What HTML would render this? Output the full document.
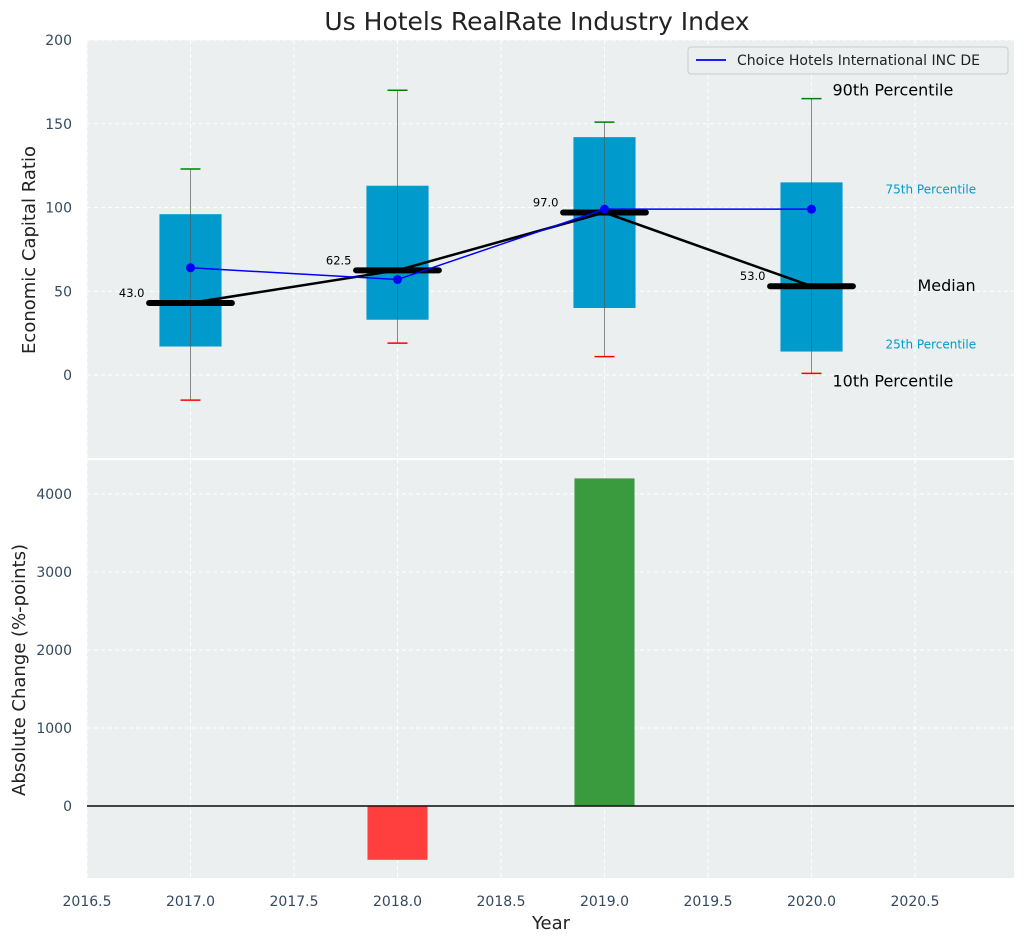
<!DOCTYPE html>
<html><head><meta charset="utf-8"><style>
body{margin:0;background:#fff;font-family:"Liberation Sans","DejaVu Sans",sans-serif;}
svg text{font-family:"DejaVu Sans","Liberation Sans",sans-serif;}
</style></head><body>
<svg id="chart" width="1026" height="942" xmlns="http://www.w3.org/2000/svg">
<rect width="1026" height="942" fill="#fff"/>
<text x="537" y="30" font-size="25" text-anchor="middle" fill="#222">Us Hotels RealRate Industry Index</text>
<g id="topPanel"></g>
<g id="botPanel"></g>
</svg>
<script>
const years=[2017,2018,2019,2020];
const p10=[-15,19,11,1];
const q1=[17,33,40,14];
const medians=[43,62.5,97,53];
const q3=[96,113,142,115];
const p90=[123,170,151,165];
const company=[64,57,99,99];
const changes=[null,-690,4200,null];
const xTicks=[2016.5,2017,2017.5,2018,2018.5,2019,2019.5,2020,2020.5];
const topTicks=[0,50,100,150,200];
const botTicks=[0,1000,2000,3000,4000];

const NS="http://www.w3.org/2000/svg";
function el(p,t,a){const e=document.createElementNS(NS,t);for(const k in a)e.setAttribute(k,a[k]);p.appendChild(e);return e;}
const L=87,R=1014;
const X=v=>L+(v-2016.5)*207;
const YT=v=>375-v*1.675;
const YB=v=>806-v*0.078;
const gTop=document.getElementById('topPanel'),gBot=document.getElementById('botPanel');
let r=el(gTop,'rect',{x:L,y:40,width:R-L,height:418,fill:'#ebeff0'});


r=el(gBot,'rect',{x:L,y:460,width:R-L,height:418,fill:'#ebeff0'});


xTicks.forEach(t=>{
 [[gTop,40,458],[gBot,460,878]].forEach(([g,a,b])=>{let l=el(g,'line',{x1:X(t),x2:X(t),y1:a,y2:b,stroke:'#fff','stroke-dasharray':'4,3','stroke-width':1});
 
 });
 let tx=el(gBot,'text',{x:X(t),y:906,'font-size':14,'text-anchor':'middle',fill:'#34495e'});tx.textContent=t.toFixed(1);
 
 
});
topTicks.forEach(t=>{
 let l=el(gTop,'line',{x1:L,x2:R,y1:YT(t),y2:YT(t),stroke:'#fff','stroke-dasharray':'4,3'});
 
 
 let tx=el(gTop,'text',{x:72,y:YT(t)+5,'font-size':14,'text-anchor':'end',fill:'#34495e'});tx.textContent=t;
 
 
});
botTicks.forEach(t=>{
 let l=el(gBot,'line',{x1:L,x2:R,y1:YB(t),y2:YB(t),stroke:'#fff','stroke-dasharray':'4,3'});
 
 
 let tx=el(gBot,'text',{x:72,y:YB(t)+5,'font-size':14,'text-anchor':'end',fill:'#34495e'});tx.textContent=t;
 
 
});
years.forEach((y,i)=>{
 const cx=X(y),hw=0.15*207;
 let w=el(gTop,'line',{x1:cx,x2:cx,y1:YT(p90[i]),y2:YT(p10[i]),stroke:'#888','stroke-width':1});
 
 
 let b=el(gTop,'rect',{x:cx-hw,y:YT(q3[i]),width:2*hw,height:YT(q1[i])-YT(q3[i]),fill:'#009acd'});
 
 
 el(gTop,'line',{x1:cx,x2:cx,y1:YT(q3[i]),y2:YT(q1[i]),stroke:'#555','stroke-width':1,opacity:0.6});
 let c=el(gTop,'line',{x1:cx-10,x2:cx+10,y1:YT(p90[i]),y2:YT(p90[i]),stroke:'green','stroke-width':1.5});
 
 
 c=el(gTop,'line',{x1:cx-10,x2:cx+10,y1:YT(p10[i]),y2:YT(p10[i]),stroke:'red','stroke-width':1.5});
 
 
});
let mp=el(gTop,'polyline',{points:years.map((y,i)=>X(y)+','+YT(medians[i])).join(' '),fill:'none',stroke:'#000','stroke-width':2.5});


years.forEach((y,i)=>{
 let m=el(gTop,'line',{x1:X(y)-0.2*207,x2:X(y)+0.2*207,y1:YT(medians[i]),y2:YT(medians[i]),stroke:'#000','stroke-width':6,'stroke-linecap':'round'});
 
 
 let t=el(gTop,'text',{x:X(y)-46,y:YT(medians[i])-6,'font-size':11.5,'text-anchor':'end',fill:'#000'});t.textContent=medians[i].toFixed(1);
 
 
});
let cp=el(gTop,'polyline',{points:years.map((y,i)=>X(y)+','+YT(company[i])).join(' '),fill:'none',stroke:'blue','stroke-width':1.5});


years.forEach((y,i)=>{let d=el(gTop,'circle',{cx:X(y),cy:YT(company[i]),r:4.5,fill:'blue'});
 
 });
const i4=3,ax=X(2020);
[["90th Percentile",ax+21,YT(p90[i4])-3,16,'#000'],["75th Percentile",ax+74,YT(q3[i4])+11,12,'#009acd'],["Median",ax+106,YT(medians[i4])+5,16,'#000'],["25th Percentile",ax+74,YT(q1[i4])-3,12,'#009acd'],["10th Percentile",ax+21,YT(p10[i4])+13,16,'#000']].forEach(a=>{
 let t=el(gTop,'text',{x:a[1],y:a[2],'font-size':a[3],fill:a[4]});t.textContent=a[0];
 
 
});
let lg=el(gTop,'g',{});


el(lg,'rect',{x:688,y:47,width:320,height:27,rx:3,fill:'#ebeff0',stroke:'#ccc'});
el(lg,'line',{x1:696,x2:726,y1:60,y2:60,stroke:'blue','stroke-width':1.8});
let lt=el(lg,'text',{x:737,y:65,'font-size':14,fill:'#222'});lt.textContent='Choice Hotels International INC DE';
el(gBot,'line',{x1:L,x2:R,y1:YB(0),y2:YB(0),stroke:'#000','stroke-width':1.2});
years.forEach((y,i)=>{
 const v=changes[i];if(v===null)return;
 const y0=Math.min(YB(0),YB(v)),h=Math.abs(YB(v)-YB(0));
 let b=el(gBot,'rect',{x:X(y)-0.145*207,y:y0,width:0.29*207,height:h,fill:v<0?'#ff3e3e':'#3a9a3e'});
 
 
});
el(gBot,'line',{x1:L,x2:R,y1:YB(0),y2:YB(0),stroke:'#000','stroke-width':1.2});
let t=el(gTop,'text',{x:35,y:250,'font-size':18,'text-anchor':'middle',fill:'#222',transform:'rotate(-90 35 250)'});t.textContent='Economic Capital Ratio';


t=el(gBot,'text',{x:25,y:670,'font-size':18,'text-anchor':'middle',fill:'#222',transform:'rotate(-90 25 670)'});t.textContent='Absolute Change (%-points)';


t=el(gBot,'text',{x:551,y:929,'font-size':18,'text-anchor':'middle',fill:'#222'});t.textContent='Year';


</script>
</body></html>
